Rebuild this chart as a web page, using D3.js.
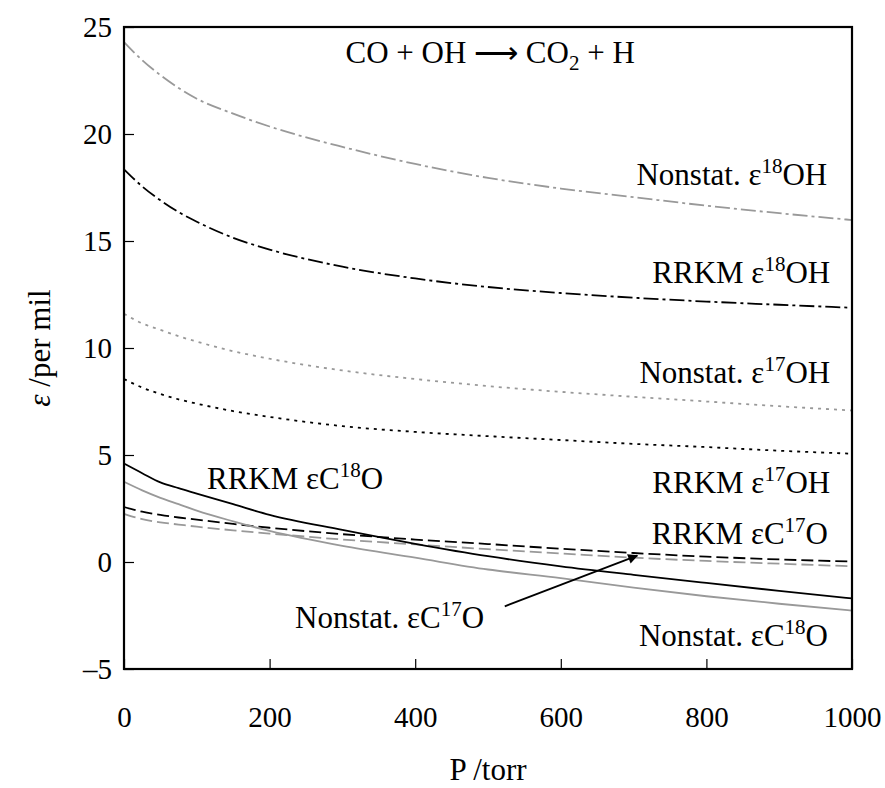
<!DOCTYPE html>
<html>
<head>
<meta charset="utf-8">
<script src="https://cdn.jsdelivr.net/npm/d3@7"></script>
<style>
  body { margin: 0; background: #fff; }
  text { font-family: "Liberation Serif", "Times New Roman", serif; fill: #000; }
</style>
</head>
<body>
<script>
// pressures (torr) shared by every curve
const pression = [0, 25, 50, 75, 100, 150, 200, 300, 400, 500, 600, 700, 800, 900, 1000];

// fractionnements en per mil
const nonstat18OH = [24.3, 23.45, 22.75, 22.15, 21.65, 20.95, 20.35, 19.4, 18.6, 17.95, 17.45, 17.05, 16.65, 16.3, 15.98];
const rrkm18OH    = [18.35, 17.55, 16.9, 16.35, 15.9, 15.15, 14.6, 13.8, 13.25, 12.85, 12.57, 12.35, 12.17, 12.02, 11.88];
const nonstat17OH = [11.6, 11.15, 10.85, 10.55, 10.3, 9.85, 9.5, 8.95, 8.55, 8.22, 7.95, 7.72, 7.5, 7.28, 7.08];
const rrkm17OH    = [8.55, 8.15, 7.85, 7.6, 7.4, 7.05, 6.78, 6.35, 6.08, 5.88, 5.7, 5.52, 5.37, 5.2, 5.06];
const rrkmC18O    = [4.6, 4.15, 3.72, 3.45, 3.2, 2.7, 2.2, 1.5, 0.85, 0.27, -0.2, -0.6, -0.98, -1.35, -1.7];
const nonstatC18O = [3.75, 3.35, 3.0, 2.7, 2.4, 1.9, 1.45, 0.75, 0.2, -0.35, -0.75, -1.2, -1.6, -1.95, -2.27];
const rrkmC17O    = [2.57, 2.35, 2.2, 2.08, 1.98, 1.78, 1.6, 1.3, 1.05, 0.84, 0.62, 0.42, 0.25, 0.12, 0.02];
const nonstatC17O = [2.25, 2.0, 1.85, 1.75, 1.65, 1.48, 1.33, 1.05, 0.82, 0.6, 0.4, 0.2, 0.05, -0.08, -0.2];

const ticksX = [0, 200, 400, 600, 800, 1000];
const ticksY = [-5, 0, 5, 10, 15, 20, 25];

// series and their line style
const series = [
  {vals: nonstat18OH, color: "#999", dash: "15,4,3,4"},
  {vals: rrkm18OH,    color: "#000", dash: "15,4,3,4"},
  {vals: nonstat17OH, color: "#999", dash: "3,5"},
  {vals: rrkm17OH,    color: "#000", dash: "3,5"},
  {vals: rrkmC17O,    color: "#000", dash: "12,5"},
  {vals: nonstatC17O, color: "#999", dash: "12,5"},
  {vals: nonstatC18O, color: "#999", dash: null},
  {vals: rrkmC18O,    color: "#000", dash: null}
];

// labels : [texte avant, exposant, texte apres, P, epsilon, ancre]
const etiquettes = [
  ["Nonstat. ε", "18", "OH", 966, 17.63, "end"],
  ["RRKM ε", "18", "OH", 970, 13.02, "end"],
  ["Nonstat. ε", "17", "OH", 970, 8.36, "end"],
  ["RRKM ε", "17", "OH", 970, 3.24, "end"],
  ["RRKM εC", "17", "O", 967, 0.86, "end"],
  ["Nonstat. εC", "18", "O", 967, -3.94, "end"],
  ["RRKM εC", "18", "O", 114, 3.42, "start"],
  ["Nonstat. εC", "17", "O", 235, -3.1, "start"]
];

// fleche : de (P, eps) vers (P, eps)
const fleche = [[523, -2.07], [705, 0.3]];

const largeur = 885, hauteur = 788;
const marges = {top: 27, right: 33, bottom: 119, left: 124};
const taille = 31;

const svg = d3.select("body").append("svg")
  .attr("width", largeur)
  .attr("height", hauteur);

const echelleX = d3.scaleLinear().domain([0, 1000]).range([marges.left, largeur - marges.right]);
const echelleY = d3.scaleLinear().domain([-5, 25]).range([hauteur - marges.bottom, marges.top]);

svg.append("defs").append("marker")
  .attr("id", "pointe")
  .attr("viewBox", "0 0 10 10")
  .attr("refX", 9).attr("refY", 5)
  .attr("markerWidth", 14).attr("markerHeight", 10)
  .attr("markerUnits", "userSpaceOnUse")
  .attr("orient", "auto")
  .append("path").attr("d", "M0,0 L10,5 L0,10 z").attr("fill", "#000");

// axes, ticks pointing inwards
const axeX = d3.axisBottom(echelleX).tickValues(ticksX).tickSizeInner(-10).tickSizeOuter(0).tickPadding(49)
  .tickFormat(d => d);
const axeY = d3.axisLeft(echelleY).tickValues(ticksY).tickSizeInner(-10).tickSizeOuter(0).tickPadding(12)
  .tickFormat(d => d < 0 ? "–" + Math.abs(d) : d);

const gx = svg.append("g")
  .attr("transform", "translate(0," + (hauteur - marges.bottom) + ")")
  .call(axeX);
gx.select(".domain").remove();
gx.selectAll("text").attr("font-size", 29).attr("font-family", "Liberation Serif").attr("dy", "0.32em");
gx.selectAll(".tick line").attr("stroke-width", 1.2);

const gy = svg.append("g")
  .attr("transform", "translate(" + marges.left + ",0)")
  .call(axeY);
gy.select(".domain").remove();
gy.selectAll("text").attr("font-size", 29).attr("font-family", "Liberation Serif");
gy.selectAll(".tick line").attr("stroke-width", 1.2);

// courbes
const ligne = d3.line().curve(d3.curveMonotoneX);
const gCourbes = svg.append("g");
series.forEach(function(s) {
  gCourbes.append("path")
    .attr("d", ligne(pression.map((p, i) => [echelleX(p), echelleY(s.vals[i])])))
    .attr("fill", "none")
    .attr("stroke", s.color)
    .attr("stroke-width", 1.8)
    .attr("stroke-dasharray", s.dash);
});

// cadre
svg.append("rect")
  .attr("x", echelleX(0)).attr("y", echelleY(25))
  .attr("width", echelleX(1000) - echelleX(0))
  .attr("height", echelleY(-5) - echelleY(25))
  .attr("fill", "none").attr("stroke", "#000").attr("stroke-width", 2.2);

// etiquettes des courbes
etiquettes.forEach(function(e) {
  const t = svg.append("text")
    .attr("x", echelleX(e[3])).attr("y", echelleY(e[4]))
    .attr("font-size", taille)
    .attr("text-anchor", e[5]);
  t.append("tspan").text(e[0]);
  t.append("tspan").attr("font-size", 21).attr("dy", -12).text(e[1]);
  t.append("tspan").attr("dy", 12).text(e[2]);
});

svg.append("line")
  .attr("x1", echelleX(fleche[0][0])).attr("y1", echelleY(fleche[0][1]))
  .attr("x2", echelleX(fleche[1][0])).attr("y2", echelleY(fleche[1][1]))
  .attr("stroke", "#000").attr("stroke-width", 1.8)
  .attr("marker-end", "url(#pointe)");

// titre de la reaction
const titre = svg.append("text")
  .attr("x", echelleX(503)).attr("y", echelleY(23.3))
  .attr("font-size", taille)
  .attr("text-anchor", "middle");
titre.append("tspan").text("CO + OH ⟶ CO");
titre.append("tspan").attr("font-size", 21).attr("dy", 7).text("2");
titre.append("tspan").attr("dy", -7).text(" + H");

// titres des axes
svg.append("text")
  .attr("x", echelleX(500)).attr("y", 780)
  .attr("font-size", taille)
  .attr("text-anchor", "middle")
  .text("P /torr");

const titreY = svg.append("text")
  .attr("transform", "translate(50," + echelleY(10) + ") rotate(-90)")
  .attr("font-size", taille)
  .attr("text-anchor", "middle");
titreY.append("tspan").attr("font-style", "italic").text("ε");
titreY.append("tspan").text(" /per mil");
</script>
</body>
</html>
